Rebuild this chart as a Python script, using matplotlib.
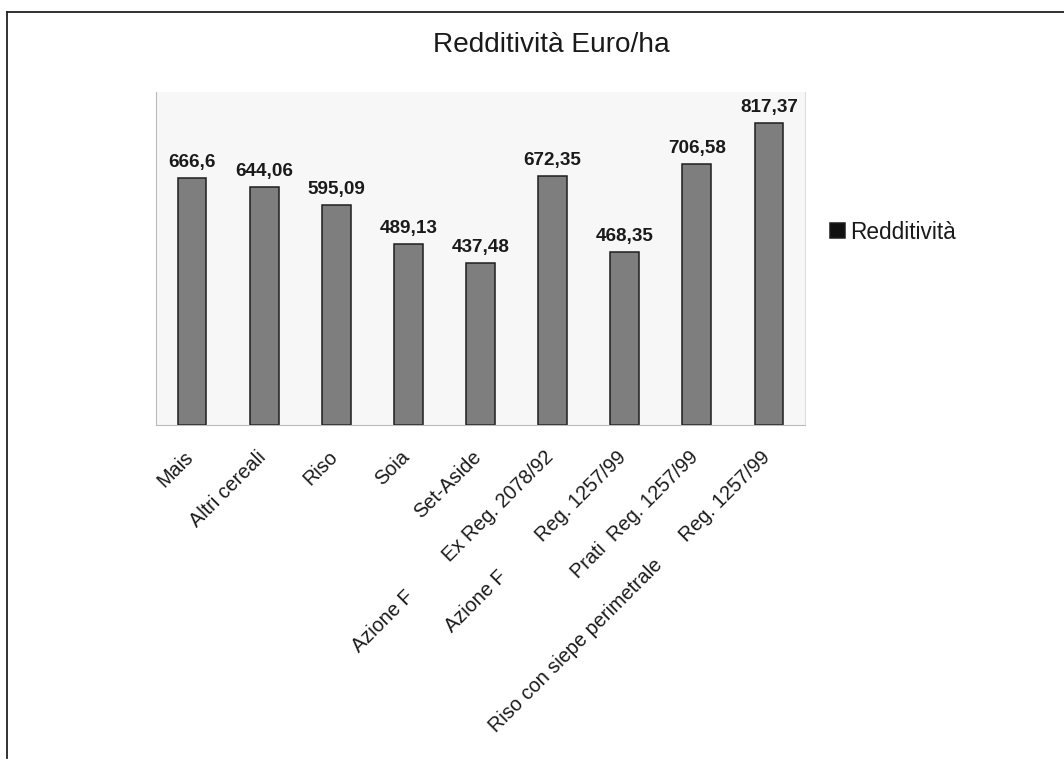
import matplotlib
matplotlib.use("Agg")
import matplotlib.pyplot as plt
from matplotlib.lines import Line2D
from matplotlib.transforms import ScaledTranslation
import numpy as np

plt.rcParams['font.family'] = ['Liberation Sans', 'DejaVu Sans']

# Data
categories = [
    "Mais",
    "Altri cereali",
    "Riso",
    "Soia",
    "Set-Aside",
    "Azione F         Ex Reg. 2078/92",
    "Azione F         Reg. 1257/99",
    "Prati  Reg. 1257/99",
    "Riso con siepe perimetrale      Reg. 1257/99",
]
redditivita = [666.6, 644.06, 595.09, 489.13, 437.48, 672.35, 468.35, 706.58, 817.37]
value_labels = ["666,6", "644,06", "595,09", "489,13", "437,48",
                "672,35", "468,35", "706,58", "817,37"]

fig = plt.figure(figsize=(10.64, 7.64), dpi=100)
ax = fig.add_axes([0.1466, 0.4437, 0.61, 0.4359])
ax.set_facecolor('#f7f7f7')

x = np.arange(len(categories))
bars = ax.bar(x, redditivita, width=0.4, color='#7e7e7e',
              edgecolor='#1e1e1e', linewidth=1.1, label='Redditività')

# value labels above the bars
for rect, txt in zip(bars, value_labels):
    ax.annotate(txt, (rect.get_x() + rect.get_width() / 2, rect.get_height()),
                xytext=(0, 5), textcoords='offset points',
                ha='center', va='bottom', fontsize=13.6, fontweight='bold',
                color='#1a1a1a')

ax.set_xlim(-0.5, 8.5)
ax.set_ylim(0, 900)
ax.set_yticks([])
ax.set_xticks(x)
ax.set_xticklabels(categories, rotation=45, ha='right', va='top',
                   rotation_mode='anchor', fontsize=14.3, color='#1a1a1a')
ax.tick_params(axis='x', length=0, pad=16)

# shift tick labels a little to the left
shift = ScaledTranslation(-6 / 72, 0, fig.dpi_scale_trans)
for lbl in ax.get_xticklabels():
    lbl.set_transform(lbl.get_transform() + shift)

ax.spines['top'].set_visible(False)
ax.spines['left'].set_color('#bbbbbb')
ax.spines['bottom'].set_color('#bbbbbb')
ax.spines['right'].set_color('#dddddd')

# title
fig.text(0.518, 0.941, 'Redditività Euro/ha', ha='center', va='center',
         fontsize=20.2, color='#1a1a1a')

# legend
leg = fig.legend(handles=[bars], labels=['Redditività'], loc='center left',
                 bbox_to_anchor=(830 / 1064, 0.696), frameon=False,
                 fontsize=16.3, handlelength=0.66, handleheight=0.66,
                 handletextpad=0.25, borderpad=0, borderaxespad=0)
leg.legend_handles[0].set_facecolor('#111111')
for t in leg.get_texts():
    t.set_color('#1a1a1a')

# frame lines (top and left) of the original chart box
fig.add_artist(Line2D([7 / 1064, 7 / 1064], [1 - 12 / 764, 1 - 758 / 764],
                      transform=fig.transFigure, color='#222222', lw=1.3))
fig.add_artist(Line2D([7 / 1064, 1.0], [1 - 12 / 764, 1 - 12 / 764],
                      transform=fig.transFigure, color='#222222', lw=1.3))

fig.savefig('out.png', dpi=100, facecolor='white')
